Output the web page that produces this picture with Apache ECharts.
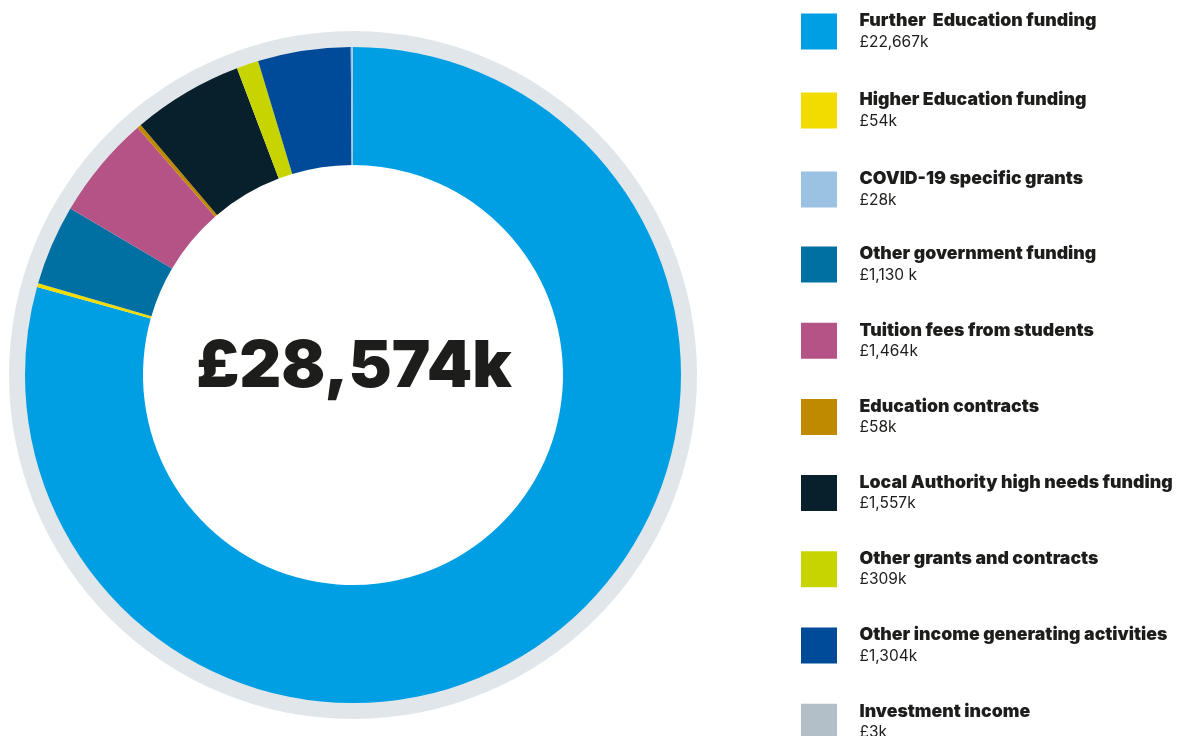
<!DOCTYPE html>
<html>
<head>
<meta charset="utf-8">
<script src="https://cdn.jsdelivr.net/npm/echarts@6/dist/echarts.min.js"></script>
<style>
  html, body { margin: 0; padding: 0; background: #ffffff; }
  #chart { width: 1181px; height: 736px; }
</style>
</head>
<body>
<div id="chart"></div>
<script>
// Income sources (£k), in the order they run clockwise round the ring from 12 o'clock
const categories = [
  'Further  Education funding',
  'Higher Education funding',
  'Other government funding',
  'Tuition fees from students',
  'Education contracts',
  'Local Authority high needs funding',
  'Other grants and contracts',
  'Other income generating activities',
  'COVID-19 specific grants',
  'Investment income'
];
const values = [22667, 54, 1130, 1464, 58, 1557, 309, 1304, 28, 3];
const valueLabels = ['£22,667k', '£54k', '£1,130 k', '£1,464k', '£58k', '£1,557k', '£309k', '£1,304k', '£28k', '£3k'];
const colors = ['#009fe3', '#f2dc00', '#0070a2', '#b55387', '#c08a00', '#08202c', '#c8d400', '#004a9a', '#9cc2e3', '#b3bfc8'];

// Legend lists the sources in reporting order
const legendTop = ['Further  Education funding', 'Higher Education funding', 'COVID-19 specific grants'];
const legendRest = [
  'Other government funding', 'Tuition fees from students', 'Education contracts',
  'Local Authority high needs funding', 'Other grants and contracts',
  'Other income generating activities', 'Investment income'
];
const totalLabel = '£28,574k';

const chart = echarts.init(document.getElementById('chart'), null, { renderer: 'canvas' });

const pieData = categories.map((name, i) => ({
  name: name,
  value: values[i],
  itemStyle: { color: colors[i] }
}));

const labelFor = {};
categories.forEach((c, i) => { labelFor[c] = valueLabels[i]; });

const legendText = {
  color: '#1d1d1b',
  rich: {
    n: { fontFamily: 'Inter', fontWeight: 900, fontSize: 17.7, lineHeight: 21, color: '#1d1d1b', padding: [0, 0, 0, 17.5] },
    v: { fontFamily: 'Inter', fontWeight: 400, fontSize: 15.5, lineHeight: 21, color: '#1d1d1b', padding: [0, 0, 0, 17.5] }
  }
};
const legendCommon = {
  orient: 'vertical',
  left: 801,
  padding: 0,
  height: 520,
  icon: 'rect',
  itemWidth: 36,
  itemHeight: 36,
  selectedMode: false,
  textStyle: legendText,
  formatter: name => '{n|' + name + '}\n{v|' + labelFor[name] + '}'
};

chart.setOption({
  backgroundColor: '#ffffff',
  animation: false,
  legend: [
    Object.assign({}, legendCommon, { top: 12, itemGap: 41, data: legendTop }),
    Object.assign({}, legendCommon, { top: 245, itemGap: 38.2, data: legendRest })
  ],
  graphic: [{
    type: 'text',
    x: 354,
    y: 367,
    z: 100,
    style: {
      text: totalLabel,
      align: 'center',
      verticalAlign: 'middle',
      fontFamily: 'Inter',
      fontWeight: 900,
      fontSize: 65,
      fill: '#1d1d1b'
    }
  }],
  series: [
    {
      // pale outer rim
      type: 'pie',
      silent: true,
      center: [353, 375],
      radius: [326, 344],
      label: { show: false },
      labelLine: { show: false },
      itemStyle: { color: '#e1e6ea' },
      data: [{ value: 1, name: '' }],
      legendHoverLink: false,
      z: 1
    },
    {
      type: 'pie',
      center: [353, 375],
      radius: [210, 328],
      startAngle: 90,
      clockwise: true,
      avoidLabelOverlap: false,
      label: { show: false },
      labelLine: { show: false },
      emphasis: { disabled: true },
      itemStyle: { borderWidth: 0 },
      data: pieData,
      z: 2
    }
  ]
});
</script>
</body>
</html>
